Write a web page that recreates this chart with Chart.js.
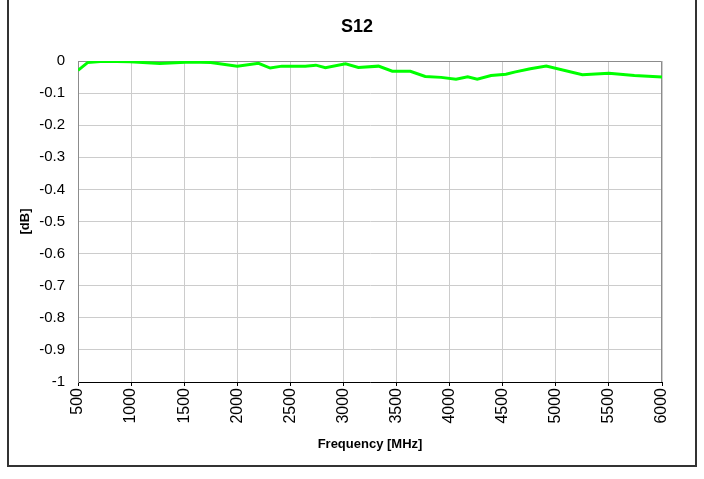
<!DOCTYPE html>
<html><head><meta charset="utf-8">
<script src="https://cdn.jsdelivr.net/npm/chart.js@4"></script>
<style>html,body{margin:0;padding:0;background:#fff}canvas{display:block}</style>
</head><body>
<canvas id="c" width="704" height="479"></canvas>
<script>
const chartTitle = 'S12';
const xAxisTitle = 'Frequency [MHz]';
const yAxisTitle = '[dB]';
const frequencies = [500, 590, 740, 990, 1270, 1560, 1750, 2000, 2200, 2310, 2420, 2640, 2740, 2830, 3020, 3140, 3330, 3460, 3630, 3770, 3920, 4060, 4170, 4260, 4390, 4530, 4620, 4760, 4910, 5250, 5500, 5740, 6000];
const s12 = [-0.029, -0.005, -0.001, -0.002, -0.008, -0.003, -0.005, -0.016, -0.007, -0.022, -0.016, -0.016, -0.013, -0.021, -0.009, -0.020, -0.016, -0.032, -0.032, -0.048, -0.051, -0.057, -0.049, -0.057, -0.045, -0.041, -0.034, -0.024, -0.016, -0.043, -0.038, -0.045, -0.050];
const xTicks = [500, 1000, 1500, 2000, 2500, 3000, 3500, 4000, 4500, 5000, 5500, 6000];
const yTicks = [0, -0.1, -0.2, -0.3, -0.4, -0.5, -0.6, -0.7, -0.8, -0.9, -1];

const points = frequencies.map((f, i) => ({x: f, y: s12[i]}));
const FONT = '"Liberation Sans", Arial, sans-serif';

const frame = {
  id: 'frame',
  beforeDatasetsDraw(chart) {
    const {ctx, chartArea: a} = chart;
    ctx.save();
    ctx.strokeStyle = '#8c8c8c';
    ctx.lineWidth = 1;
    ctx.beginPath();
    ctx.moveTo(a.left, a.top + 0.5);
    ctx.lineTo(a.right - 0.5, a.top + 0.5);
    ctx.lineTo(a.right - 0.5, a.bottom);
    ctx.stroke();
    ctx.restore();
  },
  afterDraw(chart) {
    const ctx = chart.ctx;
    ctx.save();
    ctx.strokeStyle = '#333';
    ctx.lineWidth = 2;
    ctx.strokeRect(8, -5, 688, 471);
    ctx.fillStyle = '#000';
    ctx.font = 'bold 18px ' + FONT;
    ctx.textAlign = 'center';
    ctx.textBaseline = 'middle';
    ctx.fillText(chartTitle, 357, 27);
    ctx.restore();
  }
};

new Chart(document.getElementById('c'), {
  type: 'line',
  data: {
    datasets: [{
      label: chartTitle,
      data: points,
      borderColor: '#00ff00',
      backgroundColor: '#00ff00',
      borderWidth: 3,
      pointRadius: 0,
      tension: 0,
      fill: false
    }]
  },
  options: {
    responsive: false,
    animation: false,
    devicePixelRatio: 1,
    layout: {padding: {top: 61, left: 0, right: 42, bottom: 0}},
    plugins: {
      legend: {display: false},
      tooltip: {enabled: false},
      title: {display: false}
    },
    scales: {
      x: {
        type: 'linear',
        min: 500, max: 6000,
        afterBuildTicks(scale) { scale.ticks = xTicks.map(v => ({value: v})); },
        afterFit(scale) { scale.height = 97; },
        ticks: {
          autoSkip: false, minRotation: 90, maxRotation: 90,
          color: '#000', padding: 2,
          font: {family: FONT, size: 16},
          callback: v => String(v)
        },
        grid: {color: '#cccccc', lineWidth: 1, tickLength: 4, tickColor: '#000', drawTicks: true},
        border: {color: '#000', width: 1},
        title: {
          display: true, text: xAxisTitle, color: '#000',
          font: {family: FONT, size: 13, weight: 'bold'},
          padding: {top: 0, bottom: 27}
        }
      },
      y: {
        type: 'linear',
        min: -1, max: 0,
        afterBuildTicks(scale) { scale.ticks = yTicks.map(v => ({value: v})); },
        afterFit(scale) { scale.width = 78; },
        ticks: {
          color: '#000', padding: 13,
          font: {family: FONT, size: 15},
          callback: v => String(Math.round(v * 10) / 10)
        },
        grid: {color: '#cccccc', lineWidth: 1, drawTicks: false},
        border: {color: '#8c8c8c', width: 1},
        title: {
          display: true, text: yAxisTitle, color: '#000',
          font: {family: FONT, size: 13, weight: 'bold'},
          padding: {top: 18, bottom: 0}
        }
      }
    }
  },
  plugins: [frame]
});
</script>
</body></html>
